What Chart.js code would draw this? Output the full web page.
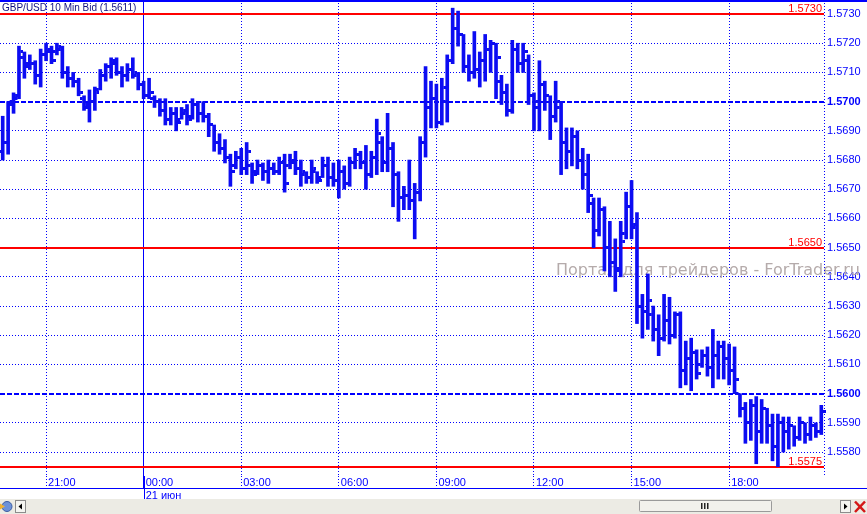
<!DOCTYPE html>
<html lang="ru">
<head>
<meta charset="UTF-8">
<title>GBP/USD 10 Min Bid</title>
<script src="https://cdn.jsdelivr.net/npm/chart.js"></script>
<style>
  body { margin: 0; background: #fff; }
  #wrap { position: relative; width: 867px; height: 514px; overflow: hidden; background: #fff; }
  #chart { position: absolute; left: 0; top: 0; }
  #scroll { position: absolute; left: 0; top: 499px; }
</style>
</head>
<body>
<div id="wrap">
  <canvas id="chart" width="867" height="499"></canvas>
  <!-- bottom scroll strip of the terminal window -->
  <svg id="scroll" width="867" height="15" viewBox="0 0 867 15">
    <rect width="867" height="15" fill="#ecebe4"/>
    <circle cx="7" cy="7.5" r="5" fill="#6d92d8" stroke="#3b5ca3"/>
    <path d="M0 4.5 L5 7.5 L0 10.5 Z" fill="#f2b233"/>
    <rect x="15.5" y="1.5" width="10" height="12" fill="#f5f5f1" stroke="#8c8c8c"/>
    <path d="M22 4.5 L18.5 7.5 L22 10.5 Z" fill="#000"/>
    <rect x="639.5" y="1.5" width="132" height="11" rx="1" fill="#f2f1ec" stroke="#9a9a9a"/>
    <rect x="701" y="4" width="1.5" height="6" fill="#222"/>
    <rect x="704" y="4" width="1.5" height="6" fill="#222"/>
    <rect x="707" y="4" width="1.5" height="6" fill="#222"/>
    <rect x="840.5" y="1.5" width="10" height="12" fill="#f5f5f1" stroke="#8c8c8c"/>
    <path d="M844 4.5 L847.5 7.5 L844 10.5 Z" fill="#000"/>
    <path d="M855 2.5 L865 13 M865 2.5 L855 13" stroke="#d41818" stroke-width="2.5"/>
  </svg>
</div>
<script>
// 10-minute bars, 20 Jun 19:40 .. 21 Jun 20:50
var times = [
  "19:40","19:50","20:00","20:10","20:20","20:30","20:40","20:50",
  "21:00","21:10","21:20","21:30","21:40","21:50","22:00","22:10","22:20","22:30","22:40","22:50","23:00","23:10","23:20","23:30","23:40","23:50",
  "00:00","00:10","00:20","00:30","00:40","00:50","01:00","01:10","01:20","01:30","01:40","01:50","02:00","02:10","02:20","02:30","02:40","02:50",
  "03:00","03:10","03:20","03:30","03:40","03:50","04:00","04:10","04:20","04:30","04:40","04:50","05:00","05:10","05:20","05:30","05:40","05:50",
  "06:00","06:10","06:20","06:30","06:40","06:50","07:00","07:10","07:20","07:30","07:40","07:50","08:00","08:10","08:20","08:30","08:40","08:50",
  "09:00","09:10","09:20","09:30","09:40","09:50","10:00","10:10","10:20","10:30","10:40","10:50","11:00","11:10","11:20","11:30","11:40","11:50",
  "12:00","12:10","12:20","12:30","12:40","12:50","13:00","13:10","13:20","13:30","13:40","13:50","14:00","14:10","14:20","14:30","14:40","14:50",
  "15:00","15:10","15:20","15:30","15:40","15:50","16:00","16:10","16:20","16:30","16:40","16:50","17:00","17:10","17:20","17:30","17:40","17:50",
  "18:00","18:10","18:20","18:30","18:40","18:50","19:00","19:10","19:20","19:30","19:40","19:50","20:00","20:10","20:20","20:30","20:40","20:50"
];

var opens = [
  1.5683,1.5686,1.5699,1.5701,1.5715,1.5713,1.5713,1.5709,1.5716,1.5717,
  1.5717,1.5718,1.5710,1.5708,1.5707,1.5701,1.5698,1.5700,1.5704,1.5709,
  1.5712,1.5713,1.5710,1.5709,1.5711,1.5709,1.5706,1.5702,1.5701,1.5700,
  1.5697,1.5694,1.5696,1.5694,1.5696,1.5695,1.5699,1.5696,1.5695,1.5692,
  1.5686,1.5684,1.5681,1.5678,1.5681,1.5677,1.5678,1.5676,1.5678,1.5676,
  1.5677,1.5676,1.5679,1.5678,1.5679,1.5677,1.5675,1.5674,1.5676,1.5674,
  1.5678,1.5674,1.5673,1.5676,1.5672,1.5679,1.5682,1.5679,1.5675,1.5681,
  1.5686,1.5679,1.5684,1.5675,1.5667,1.5668,1.5666,1.5669,1.5686,1.5698,
  1.5701,1.5693,1.5700,1.5714,1.5725,1.5723,1.5712,1.5710,1.5711,1.5714,
  1.5718,1.5720,1.5707,1.5703,1.5697,1.5718,1.5713,1.5714,1.5702,1.5698,
  1.5706,1.5702,1.5695,1.5698,1.5686,1.5683,1.5688,1.5680,1.5675,1.5665,
  1.5656,1.5663,1.5650,1.5645,1.5643,1.5655,1.5664,1.5657,1.5630,1.5628,
  1.5627,1.5622,1.5619,1.5625,1.5620,1.5627,1.5608,1.5612,1.5614,1.5610,
  1.5613,1.5609,1.5613,1.5616,1.5612,1.5608,1.5600,1.5595,1.5590,1.5596,
  1.5587,1.5595,1.5589,1.5582,1.5590,1.5587,1.5589,1.5585,1.5590,1.5586,
  1.5589,1.5587
];
var highs = [
  1.5695,1.5700,1.5703,1.5719,1.5717,1.5716,1.5714,1.5718,1.5720,1.5719,
  1.5720,1.5719,1.5712,1.5710,1.5708,1.5702,1.5704,1.5705,1.5711,1.5713,
  1.5715,1.5715,1.5712,1.5713,1.5715,1.5710,1.5707,1.5708,1.5702,1.5701,
  1.5701,1.5698,1.5698,1.5698,1.5699,1.5701,1.5700,1.5700,1.5696,1.5692,
  1.5689,1.5687,1.5682,1.5683,1.5684,1.5686,1.5679,1.5680,1.5679,1.5680,
  1.5679,1.5681,1.5682,1.5682,1.5683,1.5680,1.5676,1.5680,1.5676,1.5681,
  1.5681,1.5679,1.5680,1.5678,1.5681,1.5684,1.5683,1.5685,1.5683,1.5694,
  1.5688,1.5696,1.5686,1.5676,1.5671,1.5680,1.5672,1.5688,1.5712,1.5707,
  1.5706,1.5708,1.5716,1.5732,1.5731,1.5723,1.5716,1.5724,1.5717,1.5723,
  1.5721,1.5720,1.5709,1.5706,1.5721,1.5720,1.5720,1.5716,1.5703,1.5714,
  1.5707,1.5702,1.5707,1.5700,1.5691,1.5691,1.5690,1.5684,1.5682,1.5667,
  1.5667,1.5664,1.5659,1.5653,1.5659,1.5669,1.5673,1.5662,1.5634,1.5641,
  1.5630,1.5627,1.5634,1.5633,1.5628,1.5628,1.5618,1.5619,1.5615,1.5615,
  1.5616,1.5622,1.5618,1.5618,1.5617,1.5616,1.5600,1.5597,1.5598,1.5599,
  1.5598,1.5595,1.5593,1.5593,1.5592,1.5592,1.5589,1.5592,1.5590,1.5592,
  1.5590,1.5596
];
var lows = [
  1.5680,1.5682,1.5696,1.5701,1.5708,1.5711,1.5706,1.5705,1.5714,1.5713,
  1.5716,1.5708,1.5705,1.5705,1.5702,1.5697,1.5693,1.5697,1.5704,1.5707,
  1.5708,1.5709,1.5705,1.5707,1.5708,1.5704,1.5701,1.5701,1.5698,1.5695,
  1.5692,1.5692,1.5690,1.5694,1.5692,1.5694,1.5693,1.5693,1.5688,1.5683,
  1.5682,1.5679,1.5671,1.5677,1.5675,1.5675,1.5672,1.5675,1.5673,1.5672,
  1.5675,1.5675,1.5669,1.5677,1.5675,1.5671,1.5672,1.5672,1.5672,1.5674,
  1.5671,1.5671,1.5667,1.5670,1.5671,1.5677,1.5677,1.5670,1.5674,1.5675,
  1.5676,1.5676,1.5664,1.5659,1.5663,1.5663,1.5653,1.5666,1.5681,1.5691,
  1.5691,1.5692,1.5693,1.5713,1.5719,1.5710,1.5707,1.5708,1.5705,1.5707,
  1.5710,1.5701,1.5699,1.5695,1.5696,1.5710,1.5710,1.5699,1.5690,1.5690,
  1.5697,1.5687,1.5693,1.5675,1.5677,1.5678,1.5677,1.5670,1.5662,1.5650,
  1.5654,1.5642,1.5640,1.5635,1.5640,1.5653,1.5653,1.5624,1.5619,1.5622,
  1.5618,1.5613,1.5618,1.5617,1.5619,1.5602,1.5603,1.5601,1.5605,1.5609,
  1.5606,1.5602,1.5605,1.5605,1.5603,1.5600,1.5592,1.5583,1.5584,1.5576,
  1.5583,1.5583,1.5577,1.5575,1.5580,1.5581,1.5582,1.5584,1.5583,1.5584,
  1.5585,1.5586
];
var closes = [
  1.5686,1.5700,1.5702,1.5717,1.5712,1.5713,1.5709,1.5716,1.5718,1.5714,
  1.5719,1.5710,1.5708,1.5707,1.5703,1.5699,1.5700,1.5703,1.5709,1.5712,
  1.5714,1.5710,1.5709,1.5711,1.5710,1.5706,1.5702,1.5703,1.5700,1.5697,
  1.5694,1.5696,1.5693,1.5697,1.5694,1.5699,1.5696,1.5695,1.5692,1.5686,
  1.5684,1.5681,1.5676,1.5681,1.5677,1.5683,1.5675,1.5678,1.5676,1.5677,
  1.5676,1.5679,1.5672,1.5680,1.5677,1.5676,1.5674,1.5677,1.5673,1.5678,
  1.5674,1.5673,1.5676,1.5672,1.5679,1.5682,1.5679,1.5675,1.5681,1.5689,
  1.5679,1.5684,1.5675,1.5667,1.5668,1.5666,1.5669,1.5686,1.5698,1.5701,
  1.5693,1.5705,1.5714,1.5725,1.5723,1.5712,1.5710,1.5711,1.5714,1.5718,
  1.5720,1.5715,1.5703,1.5697,1.5718,1.5713,1.5717,1.5702,1.5700,1.5706,
  1.5702,1.5695,1.5700,1.5686,1.5683,1.5688,1.5680,1.5675,1.5668,1.5656,
  1.5663,1.5650,1.5645,1.5642,1.5652,1.5664,1.5658,1.5630,1.5628,1.5632,
  1.5622,1.5619,1.5625,1.5620,1.5627,1.5608,1.5612,1.5614,1.5607,1.5613,
  1.5609,1.5613,1.5616,1.5612,1.5608,1.5605,1.5595,1.5590,1.5596,1.5587,
  1.5595,1.5589,1.5582,1.5590,1.5587,1.5589,1.5585,1.5590,1.5586,1.5589,
  1.5587,1.5594
];

// axis labels and levels
var timeTicks = ["21:00","00:00","03:00","06:00","09:00","12:00","15:00","18:00"];
var dayTick = "00:00";
var dayLabel = "21 июн";
var priceTicks = [1.5580,1.5590,1.5600,1.5610,1.5620,1.5630,1.5640,1.5650,
                  1.5660,1.5670,1.5680,1.5690,1.5700,1.5710,1.5720,1.5730];
var roundLevels = [1.5700, 1.5600];
var redLevels = [1.5730, 1.5650, 1.5575];
var title = "GBP/USD 10 Min Bid (1.5611)";
var watermark = "Портал для трейдеров - ForTrader.ru";

var blue = '#0000ff';
var barBlue = '#0c0cf2';
var clear = 'rgba(0,0,0,0)';
var font = 'Arial, "Liberation Sans", sans-serif';

var ranges = lows.map(function (l, i) { return [l, highs[i]]; });

function isTimeTick(i) { return timeTicks.indexOf(times[i]) >= 0; }
function isRound(v) { return roundLevels.indexOf(v) >= 0; }

// little canvases used as point styles for open (left) and close (right) ticks
function tickMark(left) {
    var c = document.createElement('canvas');
    c.width = 9;
    c.height = 3;
    var g = c.getContext('2d');
    g.fillStyle = barBlue;
    g.fillRect(left ? 0 : 6, 0, 3, 3);
    return c;
}

var overlay = {
    id: 'overlay',
    beforeDatasetsDraw: function (chart) {
        var ctx = chart.ctx, y = chart.scales.y, area = chart.chartArea;
        ctx.save();
        // watermark under the bars
        ctx.font = '16px "DejaVu Sans", sans-serif';
        ctx.fillStyle = '#b5abab';
        ctx.textAlign = 'right';
        ctx.textBaseline = 'middle';
        ctx.fillText(watermark, 860, y.getPixelForValue(1.5642));
        // red price levels
        redLevels.forEach(function (v) {
            var py = Math.round(y.getPixelForValue(v));
            ctx.fillStyle = '#ff0000';
            ctx.fillRect(area.left, py - 1, area.right - area.left, 2);
            ctx.font = '11px ' + font;
            ctx.textAlign = 'right';
            ctx.textBaseline = 'alphabetic';
            ctx.fillText(v.toFixed(4), area.right - 2, py - 2);
        });
        ctx.restore();
    },
    afterDraw: function (chart) {
        var ctx = chart.ctx, x = chart.scales.x, area = chart.chartArea;
        var w = chart.width, h = chart.height;
        ctx.save();
        ctx.fillStyle = blue;
        ctx.fillRect(0, 0, w, 2);
        ctx.fillRect(0, area.bottom + 12, w, 1);
        // day separator goes down through the date row
        var dx = Math.round(x.getPixelForTick(times.indexOf(dayTick))) + 0.5;
        ctx.strokeStyle = blue;
        ctx.lineWidth = 1;
        ctx.beginPath();
        ctx.moveTo(dx, area.bottom);
        ctx.lineTo(dx, h);
        ctx.stroke();
        // dotted right edge of the price area
        ctx.setLineDash([1, 2]);
        ctx.beginPath();
        ctx.moveTo(area.right + 0.5, 0);
        ctx.lineTo(area.right + 0.5, area.bottom);
        ctx.stroke();
        ctx.setLineDash([]);
        ctx.fillStyle = '#101080';
        ctx.font = '10px ' + font;
        ctx.textAlign = 'left';
        ctx.textBaseline = 'middle';
        ctx.fillText(title, 2, 8);
        ctx.restore();
    }
};

new Chart(document.getElementById('chart'), {
    type: 'bar',
    data: {
        labels: times,
        datasets: [
            { type: 'bar', data: ranges, backgroundColor: barBlue, borderWidth: 0, barThickness: 3, order: 2 },
            { type: 'line', data: opens, showLine: false, pointStyle: tickMark(true), pointRadius: 3, order: 1 },
            { type: 'line', data: closes, showLine: false, pointStyle: tickMark(false), pointRadius: 3, order: 1 }
        ]
    },
    options: {
        responsive: false,
        animation: false,
        events: [],
        layout: { padding: 0, autoPadding: false },
        plugins: { legend: { display: false }, tooltip: { enabled: false } },
        scales: {
            x: {
                offset: true,
                afterFit: function (s) { s.height = 23; s.paddingLeft = 0; s.paddingRight = 0; },
                grid: {
                    offset: false,
                    color: function (c) { return isTimeTick(c.index) ? blue : clear; },
                    tickColor: function (c) { return isTimeTick(c.index) ? blue : clear; },
                    tickLength: 12,
                    tickBorderDash: function (c) { return times[c.index] === dayTick ? [] : [1, 2]; }
                },
                border: {
                    display: false,
                    dash: function (c) { return times[c.index] === dayTick ? [] : [1, 2]; }
                },
                ticks: {
                    autoSkip: false,
                    maxRotation: 0,
                    minRotation: 0,
                    align: 'start',
                    labelOffset: 2,
                    padding: -12,
                    color: blue,
                    font: { family: font, size: 11, lineHeight: 1.2 },
                    callback: function (v, i) {
                        if (!isTimeTick(i)) return '';
                        return times[i] === dayTick ? [times[i], dayLabel] : times[i];
                    }
                }
            },
            y: {
                position: 'right',
                min: 1.55718,
                max: 1.57348,
                afterBuildTicks: function (s) { s.ticks = priceTicks.map(function (v) { return { value: v }; }); },
                afterFit: function (s) { s.width = 43; s.paddingTop = 0; s.paddingBottom = 0; },
                grid: {
                    drawTicks: false,
                    color: function (c) { return c.tick && c.tick.value === 1.5730 ? clear : blue; },
                    lineWidth: function (c) { return c.tick && isRound(c.tick.value) ? 2 : 1; }
                },
                border: {
                    display: false,
                    dash: function (c) { return c.tick && isRound(c.tick.value) ? [5, 2] : [1, 2]; }
                },
                ticks: {
                    padding: 3,
                    color: blue,
                    font: function (c) {
                        return { family: font, size: 11, weight: c.tick && isRound(c.tick.value) ? 'bold' : 'normal' };
                    },
                    callback: function (v) { return v.toFixed(4); }
                }
            }
        }
    },
    plugins: [overlay]
});
</script>
</body>
</html>
